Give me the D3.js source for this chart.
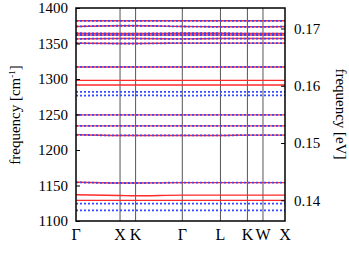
<!DOCTYPE html>
<html>
<head>
<meta charset="utf-8">
<script src="https://cdn.jsdelivr.net/npm/d3@7"></script>
<style>
  body { margin: 0; background: #fff; }
</style>
</head>
<body>
<svg id="chart" width="349" height="260"></svg>
<script>
// high symmetry path (fcc), distances in 2pi/a
const kLabels = ["Γ", "X", "K", "Γ", "L", "K", "W", "X"];
const kPos = [0, 1, 1.3536, 2.4142, 3.2802, 3.8926, 4.2462, 4.7462];

// band frequencies (cm^-1) at each k point
const redBands = [
  [1382, 1382, 1382, 1382, 1382, 1382, 1382, 1382],
  [1374, 1375, 1375, 1374, 1373.5, 1373.5, 1373.5, 1374],
  [1364.5, 1364, 1364, 1364.5, 1364.5, 1364, 1364, 1364],
  [1362, 1362, 1362, 1362, 1362, 1362, 1362, 1362],
  [1356.5, 1357, 1357, 1356.5, 1357, 1357, 1357, 1357],
  [1350.5, 1350, 1350, 1350.5, 1350.5, 1350.5, 1350.5, 1350.5],
  [1317, 1317, 1317, 1317, 1317, 1317, 1317, 1317],
  [1298, 1298, 1298, 1298, 1298, 1298, 1298, 1298],
  [1291.5, 1291.5, 1291.5, 1291.5, 1291.5, 1291.5, 1291.5, 1291.5],
  [1249.5, 1249.5, 1249.5, 1249.5, 1249.5, 1249.5, 1249.5, 1249.5],
  [1234, 1234, 1234, 1234, 1234, 1234, 1234, 1234],
  [1221.5, 1220.5, 1220.5, 1220.5, 1220.5, 1221, 1221, 1221],
  [1154.5, 1153.5, 1153.5, 1154, 1154, 1154, 1154, 1154],
  [1137, 1136, 1135.5, 1136.5, 1136.5, 1136.5, 1136.5, 1136.5],
  [1129, 1129, 1129, 1129, 1129, 1129, 1129, 1129]
];
const blueBands = [
  [1382, 1382, 1382, 1382, 1382, 1382, 1382, 1382],
  [1374, 1375, 1375, 1374, 1373.5, 1373.5, 1373.5, 1374],
  [1364.5, 1364, 1364, 1364.5, 1364.5, 1364, 1364, 1364],
  [1362, 1362, 1362, 1362, 1362, 1362, 1362, 1362],
  [1356.5, 1357, 1357, 1356.5, 1357, 1357, 1357, 1357],
  [1350.5, 1350, 1350, 1350.5, 1350.5, 1350.5, 1350.5, 1350.5],
  [1317, 1317, 1317, 1317, 1317, 1317, 1317, 1317],
  [1282, 1282, 1282, 1282, 1282, 1282, 1282, 1282],
  [1276.5, 1277, 1277, 1276.5, 1277, 1277, 1277, 1277],
  [1249.5, 1249.5, 1249.5, 1249.5, 1249.5, 1249.5, 1249.5, 1249.5],
  [1234, 1234, 1234, 1234, 1234, 1234, 1234, 1234],
  [1221.5, 1220.5, 1220.5, 1220.5, 1220.5, 1221, 1221, 1221],
  [1154.5, 1153.5, 1153.5, 1154, 1154, 1154, 1154, 1154],
  [1124.5, 1124.5, 1124.5, 1124.5, 1124.5, 1124.5, 1124.5, 1124.5],
  [1115, 1115, 1115, 1115, 1115, 1115, 1115, 1115]
];

const cmTicks = [1100, 1150, 1200, 1250, 1300, 1350, 1400];
const evTicks = [0.14, 0.15, 0.16, 0.17];
const cmPerEv = 8065.54;
const serif = "'Liberation Serif', 'Times New Roman', Times, serif";

const svg = d3.select("#chart");
const mLeft = 76, mRight = 285, mTop = 8, mBottom = 221;

const x = d3.scaleLinear()
  .domain([0, kPos[kPos.length - 1]])
  .range([mLeft, mRight]);
const y = d3.scaleLinear()
  .domain([1100, 1400])
  .range([mBottom, mTop]);
const yEv = d3.scaleLinear()
  .domain([1100 / cmPerEv, 1400 / cmPerEv])
  .range([mBottom, mTop]);

// vertical lines at k points
svg.append("g")
  .selectAll("line")
  .data(kPos.slice(1, -1))
  .join("line")
    .attr("x1", d => x(d))
    .attr("x2", d => x(d))
    .attr("y1", mTop)
    .attr("y2", mBottom)
    .attr("stroke", "#555")
    .attr("stroke-width", 1);

const line = d3.line()
  .x((d, i) => x(kPos[i]))
  .y(d => y(d))
  .curve(d3.curveMonotoneX);

svg.append("g")
  .selectAll("path")
  .data(redBands)
  .join("path")
    .attr("d", line)
    .attr("fill", "none")
    .attr("stroke", "#ff2a2a")
    .attr("stroke-width", 1.4);

svg.append("g")
  .selectAll("path")
  .data(blueBands)
  .join("path")
    .attr("d", line)
    .attr("fill", "none")
    .attr("stroke", "#3348ff")
    .attr("stroke-width", 1.8)
    .attr("stroke-dasharray", "2,2");

// left axis
const yAxis = d3.axisLeft(y).tickValues(cmTicks).tickFormat(d3.format("d"))
  .tickSizeInner(-4).tickSizeOuter(0).tickPadding(8);
const gl = svg.append("g").attr("transform", `translate(${mLeft},0)`).call(yAxis);
gl.select(".domain").remove();
gl.selectAll("line").attr("stroke", "#000");
gl.selectAll("text").style("font-family", serif).style("font-size", "15px").attr("fill", "#000");

// right axis
const evAxis = d3.axisRight(yEv).tickValues(evTicks).tickFormat(d3.format(".2f"))
  .tickSizeInner(-4).tickSizeOuter(0).tickPadding(9);
const gr = svg.append("g").attr("transform", `translate(${mRight},0)`).call(evAxis);
gr.select(".domain").remove();
gr.selectAll("line").attr("stroke", "#000");
gr.selectAll("text").style("font-family", serif).style("font-size", "15px").attr("fill", "#000");

// k labels
svg.append("g")
  .selectAll("text")
  .data(kLabels)
  .join("text")
    .attr("x", (d, i) => x(kPos[i]))
    .attr("y", 240)
    .attr("text-anchor", "middle")
    .style("font-family", serif)
    .style("font-size", "16px")
    .text(d => d);

// frame
svg.append("rect")
  .attr("x", mLeft)
  .attr("y", mTop)
  .attr("width", mRight - mLeft)
  .attr("height", mBottom - mTop)
  .attr("fill", "none")
  .attr("stroke", "#000")
  .attr("stroke-width", 1.5);

// axis titles
const tl = svg.append("text")
  .attr("transform", "translate(20,115) rotate(-90)")
  .attr("text-anchor", "middle")
  .style("font-family", serif)
  .style("font-size", "15px");
tl.append("tspan").text("frequency [cm");
tl.append("tspan").attr("dy", -5).style("font-size", "9px").text("-1");
tl.append("tspan").attr("dy", 5).text("]");

svg.append("text")
  .attr("transform", "translate(336,114) rotate(90)")
  .attr("text-anchor", "middle")
  .style("font-family", serif)
  .style("font-size", "15px")
  .text("frequency [eV]");
</script>
</body>
</html>
